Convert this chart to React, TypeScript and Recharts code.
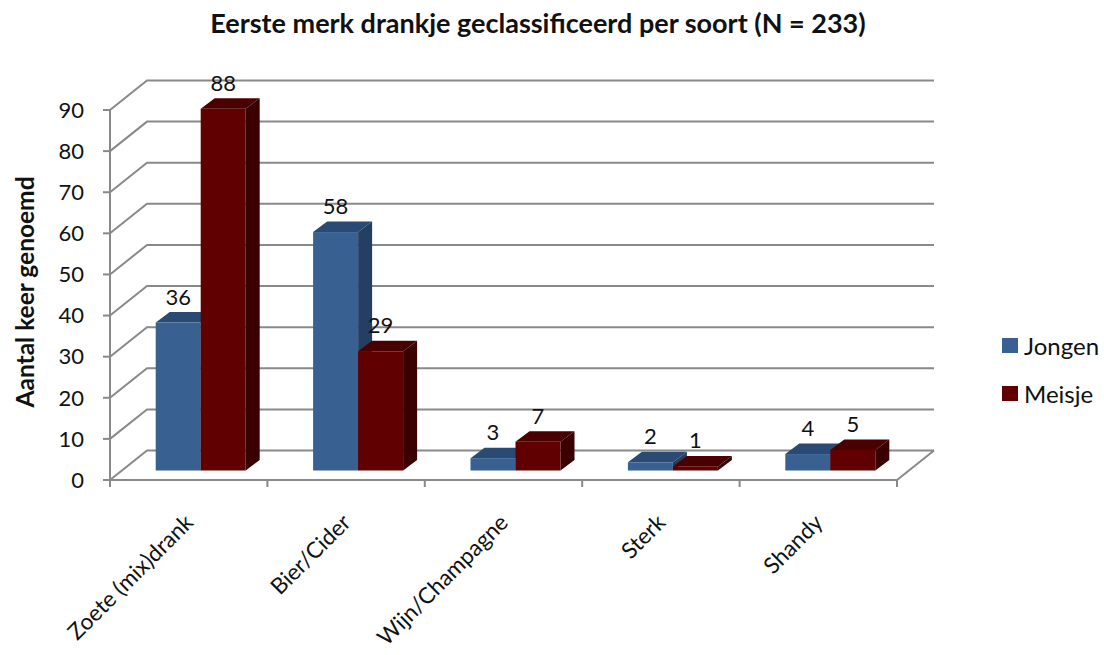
import React from 'react';
import { BarChart, Bar, XAxis, YAxis, CartesianGrid, LabelList, Legend } from 'recharts';

// Drink categories and the number of mentions per gender
const categories = ['Zoete (mix)drank', 'Bier/Cider', 'Wijn/Champagne', 'Sterk', 'Shandy'];
const jongen = [36, 58, 3, 2, 4];
const meisje = [88, 29, 7, 1, 5];
const yTicks = [0, 10, 20, 30, 40, 50, 60, 70, 80, 90];

const data = categories.map((name, i) => ({ name, Jongen: jongen[i], Meisje: meisje[i] }));

const FONT = 'Lato, "Open Sans", sans-serif';
const CHART_W = 1104;
const CHART_H = 655;
const MARGIN = { top: 110, right: 207, bottom: 55, left: 50 };
const Y_AXIS_W = 60;
const X_AXIS_H = 120;
const PLOT_W = CHART_W - MARGIN.left - Y_AXIS_W - MARGIN.right;
const BAND = PLOT_W / categories.length;

// pseudo-3D offsets: back wall, bar front plane, bar depth
const WALL_DX = 37;
const WALL_DY = 29.5;
const BAR_DX = 11.7;
const BAR_DY = 9.5;
const DEPTH_DX = 14;
const DEPTH_DY = 10.5;

const GRID = '#898989';
const BLUE = { front: '#386192', top: '#2A4A73', side: '#243F61' };
const RED = { front: '#600000', top: '#4B0000', side: '#3A0000' };

// gridline: slanted on the side wall, horizontal on the back wall
const wallLine = (props: any) => {
  const { x1, y1, x2, index } = props;
  const bx = x1 + WALL_DX;
  const by = y1 - WALL_DY;
  const ex = x2 + WALL_DX;
  let d = `M${x1},${y1} L${bx},${by} L${ex},${by}`;
  const bottom = props.y + props.height;
  if (Math.abs(y1 - bottom) < 1) {
    d += ` M${x2},${y1} L${ex},${by}`;
  }
  return <path key={`wall-${index}`} d={d} stroke={GRID} strokeWidth={2} fill="none" />;
};

const makeBox = (c: { front: string; top: string; side: string }) => (props: any) => {
  const { x, y, width, height } = props;
  if (x == null || width == null) return <g />;
  const fx = x + BAR_DX;
  const fy = y - BAR_DY;
  const w = width;
  const h = Math.max(height, 0);
  return (
    <g>
      <polygon
        points={`${fx},${fy} ${fx + DEPTH_DX},${fy - DEPTH_DY} ${fx + w + DEPTH_DX},${fy - DEPTH_DY} ${fx + w},${fy}`}
        fill={c.top}
      />
      <polygon
        points={`${fx + w},${fy} ${fx + w + DEPTH_DX},${fy - DEPTH_DY} ${fx + w + DEPTH_DX},${fy + h - DEPTH_DY} ${fx + w},${fy + h}`}
        fill={c.side}
      />
      <rect x={fx} y={fy} width={w} height={h} fill={c.front} />
    </g>
  );
};

const valueLabel = (props: any) => {
  const { x, y, width, value, index } = props;
  return (
    <text
      key={`lbl-${index}`}
      x={x + BAR_DX + width / 2}
      y={y - BAR_DY - 18}
      textAnchor="middle"
      fontSize={22}
      fontFamily={FONT}
      fill="#111"
    >
      {value}
    </text>
  );
};

const CategoryTick = (props: any) => {
  const { x, y, payload, index } = props;
  const left = x - BAND / 2;
  const right = x + BAND / 2;
  const tx = x + 6;
  const ty = y + 44;
  return (
    <g>
      <line x1={left} y1={y} x2={left} y2={y + 7} stroke={GRID} strokeWidth={2} />
      {index === categories.length - 1 && (
        <line x1={right} y1={y} x2={right} y2={y + 7} stroke={GRID} strokeWidth={2} />
      )}
      <text
        x={tx}
        y={ty}
        transform={`rotate(-45, ${tx}, ${ty})`}
        textAnchor="end"
        fontSize={22.5}
        fontFamily={FONT}
        fill="#111"
      >
        {payload.value}
      </text>
    </g>
  );
};

const YTitle = (props: any) => {
  const vb = props.viewBox || { x: 50, y: 110, width: 60, height: 370 };
  const cx = vb.x - 26;
  const cy = vb.y + vb.height / 2 - 3;
  return (
    <text
      x={cx}
      y={cy}
      transform={`rotate(-90, ${cx}, ${cy})`}
      textAnchor="middle"
      dominantBaseline="central"
      fontSize={24.5}
      fontWeight="bold"
      fontFamily={FONT}
      fill="#111"
    >
      Aantal keer genoemd
    </text>
  );
};

const LegendBox = ({ payload }: any) => (
  <div style={{ fontFamily: FONT, fontSize: 24, color: '#111' }}>
    {(payload || []).map((p: any) => (
      <div key={p.value} style={{ display: 'flex', alignItems: 'center', height: 48 }}>
        <span style={{ display: 'inline-block', width: 16, height: 15, background: p.color, marginRight: 6 }} />
        <span>{p.value}</span>
      </div>
    ))}
  </div>
);

export default function App() {
  return (
    <div style={{ position: 'absolute', left: 0, top: 0, width: CHART_W, height: CHART_H, background: '#fff' }}>
      <div
        style={{
          position: 'absolute',
          left: 0,
          top: 6,
          width: 1076,
          textAlign: 'center',
          fontFamily: FONT,
          fontWeight: 'bold',
          fontSize: 27,
          color: '#111',
          zIndex: 2,
        }}
      >
        Eerste merk drankje geclassificeerd per soort (N = 233)
      </div>
      <BarChart
        width={CHART_W}
        height={CHART_H}
        data={data}
        margin={MARGIN}
        barCategoryGap={34}
        barGap={0}
      >
        <CartesianGrid horizontal={wallLine} vertical={false} />
        <XAxis
          dataKey="name"
          height={X_AXIS_H}
          interval={0}
          tickSize={0}
          tickMargin={0}
          tickLine={false}
          axisLine={{ stroke: GRID, strokeWidth: 2 }}
          tick={<CategoryTick />}
        />
        <YAxis
          width={Y_AXIS_W}
          domain={[0, 90]}
          ticks={yTicks}
          interval={0}
          tickSize={7}
          tickMargin={19}
          axisLine={{ stroke: GRID, strokeWidth: 2 }}
          tickLine={{ stroke: GRID, strokeWidth: 2 }}
          tick={{ fill: '#111', fontSize: 22, fontFamily: FONT }}
          label={<YTitle />}
        />
        <Legend
          layout="vertical"
          align="center"
          verticalAlign="middle"
          content={<LegendBox />}
          wrapperStyle={{ left: 1002, top: 321, width: 110 }}
        />
        <Bar dataKey="Jongen" fill={BLUE.front} shape={makeBox(BLUE)} isAnimationActive={false}>
          <LabelList dataKey="Jongen" content={valueLabel} />
        </Bar>
        <Bar dataKey="Meisje" fill={RED.front} shape={makeBox(RED)} isAnimationActive={false}>
          <LabelList dataKey="Meisje" content={valueLabel} />
        </Bar>
      </BarChart>
    </div>
  );
}
